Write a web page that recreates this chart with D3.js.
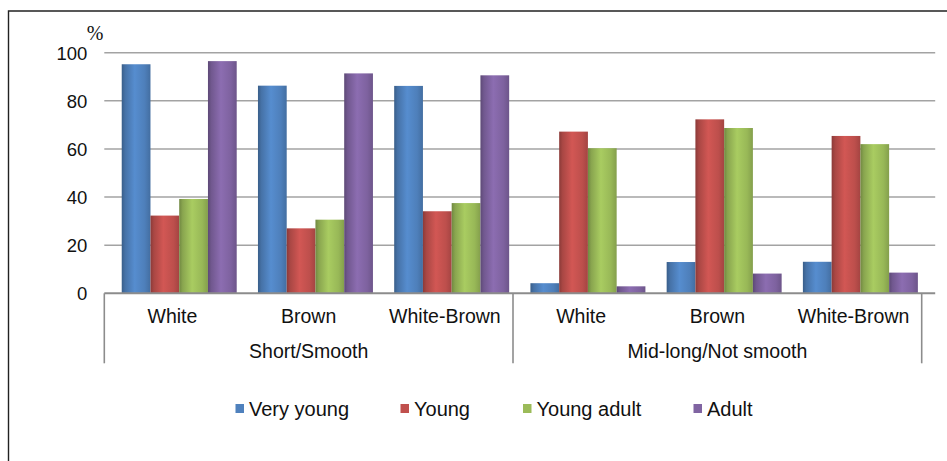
<!DOCTYPE html>
<html>
<head>
<meta charset="utf-8">
<script src="https://cdn.jsdelivr.net/npm/d3@7"></script>
<style>
  html, body { margin: 0; padding: 0; background: #fff; }
  svg { display: block; }
  text { font-family: "Liberation Sans", Arial, sans-serif; fill: #111; }
</style>
</head>
<body>
<svg id="chart" width="947" height="461"></svg>
<script>
// ---- data ----
const categories = ["White", "Brown", "White-Brown", "White", "Brown", "White-Brown"];
const groups = ["Short/Smooth", "Mid-long/Not smooth"];
const groupSize = 3;
const seriesNames = ["Very young", "Young", "Young adult", "Adult"];
const veryYoung  = [95.2, 86.3, 86.2, 4.2, 13.0, 13.1];
const young      = [32.3, 27.0, 34.1, 67.2, 72.3, 65.4];
const youngAdult = [39.2, 30.6, 37.5, 60.3, 68.7, 62.0];
const adult      = [96.5, 91.4, 90.6, 2.9, 8.2, 8.6];
const yTicks = [0, 20, 40, 60, 80, 100];
const seriesColors = ["#4F81BD", "#C0504D", "#9BBB59", "#8064A2"];

const seriesValues = [veryYoung, young, youngAdult, adult];

// ---- layout ----
const svg = d3.select("#chart");
const plotL = 104.3, plotR = 921.7, plotT = 52.7, plotB = 293.3;
const depth = 6.8;       // 3D depth offset of bars
const wallDepth = 13.5;  // back wall offset for gridlines

// outer frame
svg.append("path")
  .attr("d", `M8.5,461 L8.5,11 L947,11`)
  .attr("fill", "none").attr("stroke", "#222").attr("stroke-width", 1.4);

const y = d3.scaleLinear().domain([0, 100]).range([plotB, plotT]);
const idx = d3.range(categories.length);
const x = d3.scaleBand().domain(idx).range([plotL, plotR]).paddingInner(0).paddingOuter(0);
const xb = d3.scaleBand().domain(idx).range([plotL + depth, plotR + depth])
  .paddingInner(0.156).paddingOuter(0.078);
const xs = d3.scaleBand().domain(d3.range(seriesNames.length)).range([0, xb.bandwidth()]).padding(0);

// gradients
const defs = svg.append("defs");
seriesColors.forEach((c, i) => {
  const base = d3.color(c);
  const g = defs.append("linearGradient").attr("id", "g" + i)
    .attr("x1", "0").attr("x2", "1").attr("y1", "0").attr("y2", "0");
  g.append("stop").attr("offset", "0%").attr("stop-color", base.darker(0.9));
  g.append("stop").attr("offset", "12%").attr("stop-color", base.darker(0.35));
  g.append("stop").attr("offset", "45%").attr("stop-color", base.brighter(0.25));
  g.append("stop").attr("offset", "80%").attr("stop-color", base.darker(0.05));
  g.append("stop").attr("offset", "100%").attr("stop-color", base.darker(0.45));
});

// gridlines (y axis, no domain line)
const yAxis = d3.axisLeft(y).tickValues(yTicks).tickSize(0).tickPadding(17);
const yg = svg.append("g").attr("transform", `translate(${plotL},0)`).call(yAxis);
yg.select(".domain").remove();
yg.selectAll("text").attr("font-size", 18.5).attr("font-family", "Liberation Sans, Arial, sans-serif")
  .attr("fill", "#111").attr("dy", "0.36em");
svg.append("g").selectAll("line").data(yTicks.filter(t => t > 0)).join("line")
  .attr("x1", plotL).attr("x2", plotR + wallDepth)
  .attr("y1", d => y(d)).attr("y2", d => y(d))
  .attr("stroke", "#A3A3A3").attr("stroke-width", 1.6);

// "%" label
svg.append("text").attr("x", 95).attr("y", 40).attr("text-anchor", "middle")
  .style("font-family", "'Liberation Serif', 'Times New Roman', serif").attr("font-size", 20).text("%");

// bars
const barG = svg.append("g");
seriesValues.forEach((vals, s) => {
  barG.selectAll(null).data(idx).join("rect")
    .attr("x", i => xb(i) + xs(s))
    .attr("width", xs.bandwidth())
    .attr("y", i => y(vals[i]))
    .attr("height", i => y(0) - y(vals[i]))
    .attr("fill", `url(#g${s})`);
});

// baseline
svg.append("line").attr("x1", plotL).attr("x2", plotR + wallDepth)
  .attr("y1", y(0)).attr("y2", y(0)).attr("stroke", "#8C8C8C").attr("stroke-width", 2);

// category axis
const xAxis = d3.axisBottom(x).tickFormat(i => categories[i]).tickSize(0).tickPadding(0);
const xg = svg.append("g").attr("transform", `translate(0,${plotB})`).call(xAxis);
xg.select(".domain").remove();
xg.selectAll("text").attr("font-size", 19.5).attr("dy", null).attr("y", 30)
  .attr("font-family", "Liberation Sans, Arial, sans-serif").attr("fill", "#111");

// group separators and labels
const sepIdx = [0, groupSize, categories.length];
svg.append("g").selectAll("line").data(sepIdx).join("line")
  .attr("x1", k => k < categories.length ? x(k) : x(k - 1) + x.bandwidth())
  .attr("x2", k => k < categories.length ? x(k) : x(k - 1) + x.bandwidth())
  .attr("y1", plotB).attr("y2", 363.3)
  .attr("stroke", "#8C8C8C").attr("stroke-width", 1.6);
svg.append("g").selectAll("text").data(groups).join("text")
  .attr("x", (d, g) => (x(g * groupSize) + x(g * groupSize + groupSize - 1) + x.bandwidth()) / 2)
  .attr("y", 358).attr("text-anchor", "middle").attr("font-size", 19.5).text(d => d);

// legend
const legendX = [235.5, 400.5, 523, 693.5];
const lg = svg.append("g");
seriesNames.forEach((n, s) => {
  lg.append("rect").attr("x", legendX[s]).attr("y", 404).attr("width", 8.5).attr("height", 9)
    .attr("fill", seriesColors[s]);
  lg.append("text").attr("x", legendX[s] + 13.5).attr("y", 416).attr("font-size", 20).text(n);
});
</script>
</body>
</html>
